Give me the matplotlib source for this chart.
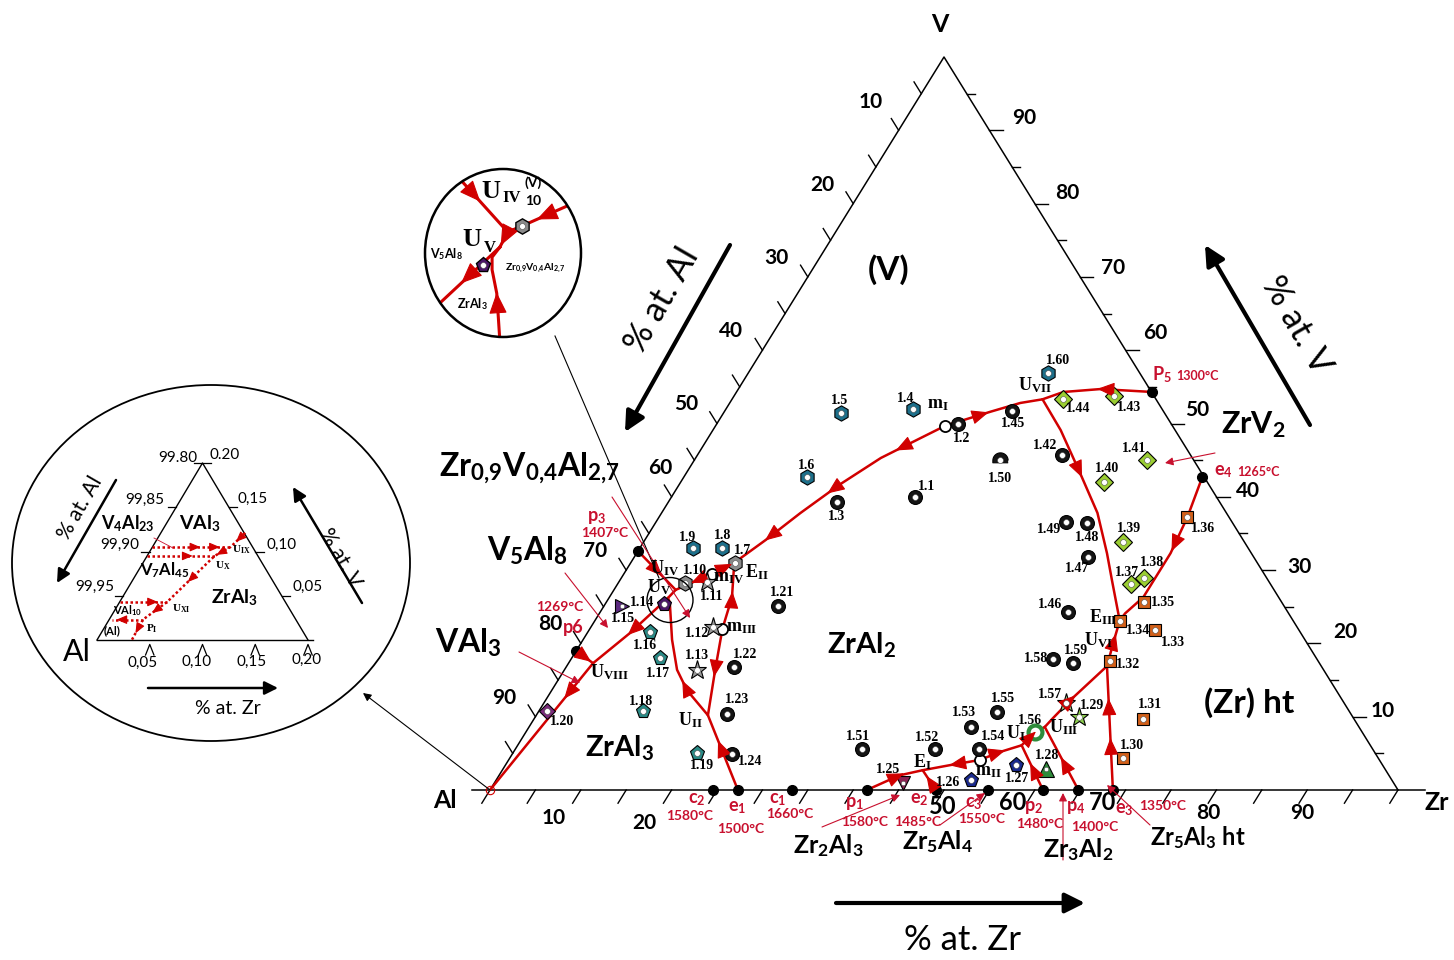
import numpy as np
import matplotlib
matplotlib.use('Agg')
import matplotlib.pyplot as plt
from matplotlib.patches import Ellipse

plt.rcParams['mathtext.fontset'] = 'custom'
plt.rcParams['mathtext.rm'] = 'Liberation Serif:bold'
plt.rcParams['mathtext.bf'] = 'Liberation Serif:bold'
plt.rcParams['mathtext.it'] = 'Liberation Serif:italic'
plt.rcParams['mathtext.sf'] = 'Lato:bold'

RED = '#d10000'
TRED = '#c8102e'
W, H = 1454, 960

# ---------------- data: compositions in at.% (Zr, V) ----------------
sym_names = ['1.%d' % i for i in range(1, 61)]
sym_zr = [26.8, 26.6, 18.6, 20.6, 13.0, 13.6, 11.5, 9.0, 5.9, 7.4,
          9.7, 13.5, 14.6, 6.5, 2.0, 6.8, 9.7, 11.5, 20.3, 0.9,
          19.2, 18.5, 20.9, 24.2, 45.0, 52.3, 56.2, 59.8, 59.9, 67.5,
          67.1, 59.5, 62.3, 57.8, 59.2, 58.2, 56.5, 57.6, 52.8, 46.6,
          49.9, 40.1, 41.8, 36.5, 31.6, 51.5, 50.0, 47.5, 45.1, 33.7,
          38.2, 46.2, 48.7, 51.1, 50.5, 56.1, 57.5, 53.1, 55.6, 33.0]
sym_v = [40.0, 49.9, 39.3, 52.0, 51.4, 42.7, 31.0, 33.0, 33.0, 28.2,
         28.4, 22.2, 16.4, 25.4, 25.1, 21.6, 18.0, 10.8, 5.0, 10.8,
         25.1, 16.8, 10.4, 4.9, 1.0, 1.4, 3.4, 2.9, 10.0, 4.4,
         9.7, 17.6, 21.8, 23.1, 25.6, 37.2, 28.1, 28.9, 33.8, 42.0,
         45.0, 45.7, 53.8, 53.3, 51.7, 24.3, 31.8, 36.4, 36.6, 45.0,
         5.6, 5.6, 8.6, 5.6, 10.6, 7.9, 11.9, 17.9, 17.3, 56.9]
sym_kind = ['circ', 'circ', 'circ', 'hex_t', 'hex_t', 'hex_t', 'hex_g', 'hex_t', 'hex_t', 'hex_g',
            'star_g', 'star_g', 'star_g', 'pent_p', 'tri_r', 'pent_t', 'pent_t', 'pent_t', 'pent_t', 'dia_p',
            'circ', 'circ', 'circ', 'circ', 'tri_d', 'pent_b', 'pent_b', 'tri_u', 'star_l', 'sq',
            'sq', 'sq', 'sq', 'sq', 'sq', 'sq', 'dia', 'dia', 'dia', 'dia',
            'dia', 'circ', 'dia', 'dia', 'circ', 'circ', 'circ', 'circ', 'circ', 'dome',
            'circ', 'circ', 'circ', 'circ', 'circ', 'ring', 'star_d', 'circ', 'circ', 'hex_t']

# monovariant lines, oriented with falling temperature
cur_p6 = [(0.0, 19.0), (2.7, 17.3)]
cur_UV_UVIII = [(6.5, 26.2), (4.7, 21.4), (2.7, 17.3)]
cur_UVIII_Al = [(2.7, 17.3), (0.0, 0.0)]
cur_p3 = [(0.0, 32.6), (6.8, 27.3)]
cur_mIV_UIV = [(9.7, 29.5), (6.8, 27.3)]
cur_mIV_EII = [(9.7, 29.5), (11.4, 31.0)]
cur_UIV_UV = [(6.8, 27.3), (6.5, 26.2)]
cur_UII_UV = [(18.9, 10.2), (14.9, 13.6), (12.4, 16.4), (9.8, 20.5), (7.0, 25.6), (6.5, 26.2)]
cur_e1 = [(27.3, 0.0), (18.9, 10.2)]
cur_mIII_UII = [(14.6, 22.0), (16.6, 16.4), (18.9, 10.2)]
cur_mIII_EII = [(14.6, 22.0), (13.5, 26.3), (11.4, 31.0)]
cur_mI_EII = [(25.3, 49.7), (23.4, 48.0), (20.4, 45.3), (17.7, 41.7), (15.3, 37.8), (13.3, 34.1), (11.4, 31.0)]
cur_mI_UVII = [(25.3, 49.7), (29.3, 51.6), (32.0, 52.8), (34.2, 53.3)]
cur_P5 = [(45.8, 54.3), (39.9, 54.7), (36.0, 54.3), (34.2, 53.3)]
cur_UVII_EIII = [(34.2, 53.3), (38.3, 49.1), (43.4, 43.2), (48.0, 37.8), (51.8, 32.3), (54.2, 28.6), (57.8, 23.1)]
cur_e4 = [(57.1, 42.7), (58.2, 37.2), (58.8, 32.3), (58.8, 26.3), (57.9, 24.1), (57.8, 23.1)]
cur_UVI_EIII = [(59.5, 16.9), (58.6, 20.1), (57.8, 23.1)]
cur_e3 = [(68.6, 0.0), (59.5, 16.9)]
cur_UIII_UVI = [(56.8, 8.6), (57.1, 9.8), (57.8, 12.3), (59.5, 16.9)]
cur_p4 = [(64.8, 0.0), (56.8, 8.6)]
cur_UI_UIII = [(55.5, 6.1), (56.1, 7.9), (56.8, 8.6)]
cur_p2 = [(60.9, 0.0), (55.5, 6.1)]
cur_mII_UI = [(51.9, 4.1), (53.6, 5.2), (55.5, 6.1)]
cur_mII_EI = [(51.9, 4.1), (49.0, 3.4), (46.3, 2.7)]
cur_p1 = [(41.5, 0.0), (44.1, 2.0), (46.3, 2.7)]
cur_e2 = [(49.1, 0.0), (46.3, 2.7)]

edge_zr = [0.0, 0.0, 24.6, 27.3, 33.3, 41.5, 49.1, 54.8, 60.9, 64.8, 68.6, 45.8, 57.1]
edge_v = [19.0, 32.6, 0, 0, 0, 0, 0, 0, 0, 0, 0, 54.3, 42.7]
saddle_zr = [25.3, 51.9, 14.6, 9.7]
saddle_v = [49.7, 4.1, 22.0, 29.5]

# Al-corner enlargement (at.%)
ins_A = [(0.0, 0.105), (0.074, 0.105)]
ins_B = [(0.0, 0.095), (0.064, 0.095)]
ins_C = [(0.0, 0.043), (0.045, 0.043)]
ins_D = [(0.032, 0.023), (0.003, 0.023)]
ins_diag = [(0.080, 0.121), (0.074, 0.105), (0.064, 0.095), (0.045, 0.043), (0.032, 0.023), (0.033, 0.0)]

# U_IV / U_V enlargement (schematic, circle radius = 1)
zin_p3 = [(-0.62, 0.95), (0.06, 0.25)]
zin_mIV = [(0.92, 0.60), (0.24, 0.32), (0.06, 0.25)]
zin_UIV_UV = [(0.06, 0.25), (-0.04, 0.07)]
zin_UV_UVIII = [(-0.04, 0.07), (-0.86, -0.64)]
zin_UII_UV = [(-0.04, -1.05), (-0.08, -0.48), (-0.14, -0.20), (-0.14, -0.05), (-0.04, 0.07)]


def tern(pts):
    p = np.asarray(pts, float)
    return p[:, 0] + p[:, 1] / 2, p[:, 1]


fig = plt.figure(figsize=(W / 100, H / 100), dpi=100)

# main ternary axes: X = Zr + V/2, Y = V
SX, SY = 9.08, 7.33
ax = fig.add_axes([0, 0, 1, 1])
ax.set_xlim(-490 / SX, (W - 490) / SX)
ax.set_ylim((790 - H) / SY, 790 / SY)
ax.axis('off')

# Al-corner inset axes
ia = fig.add_axes([0, 0, 1, 1])
ia.set_xlim(-97 / 1055, (W - 97) / 1055)
ia.set_ylim((640 - H) / 885, 640 / 885)
ia.axis('off')

# top zoom inset axes
za = fig.add_axes([0, 0, 1, 1])
za.set_xlim(-503 / 78, (W - 503) / 78)
za.set_ylim((253 - H) / 84, 253 / 84)
za.axis('off')

lay = fig.add_axes([0, 0, 1, 1])
lay.set_xlim(0, W)
lay.set_ylim(H, 0)
lay.axis('off')


def arrow_on(a, X, Y, t, color=RED, ms=12, hl=0.9, hw=0.38):
    P = a.transData.transform(np.column_stack([X, Y]))
    seg = np.hypot(*np.diff(P, axis=0).T)
    s = np.concatenate([[0], np.cumsum(seg)])
    L = t * s[-1]
    i = min(max(np.searchsorted(s, L) - 1, 0), len(seg) - 1)
    p = P[i] + (L - s[i]) / seg[i] * (P[i + 1] - P[i])
    d = (P[i + 1] - P[i]) / seg[i]
    inv = a.transData.inverted()
    a.annotate('', xy=inv.transform(p + d * 5), xytext=inv.transform(p - d * 5),
               arrowprops=dict(arrowstyle='-|>,head_length=%g,head_width=%g' % (hl, hw),
                               color=color, lw=0.8, shrinkA=0, shrinkB=0, mutation_scale=ms), zorder=7)


def lbl(x, y, s, size, color='k', weight='bold', family='Lato', rot=0, ha='center', va='center'):
    lay.text(x, y, s, fontsize=size, color=color, fontweight=weight, family=family,
             rotation=rot, ha=ha, va=va, zorder=10)


def parrow(x0, y0, x1, y1, color=TRED, lw=0.8, ms=12, style='-|>'):
    lay.annotate('', xy=(x1, y1), xytext=(x0, y0),
                 arrowprops=dict(arrowstyle=style, color=color, lw=lw, mutation_scale=ms,
                                 shrinkA=0, shrinkB=0))


# ---------------- main triangle ----------------
ax.plot([0, 100, 50, 0], [0, 0, 100, 0], color='k', lw=1.1, zorder=2)
ax.plot([-2, 0], [0, 0], color='k', lw=1.1)
ax.plot([100, 103], [0, 0], color='k', lw=1.1)
for z in range(0, 101, 5):
    ax.plot([z, z - 0.9], [0, -1.8], color='k', lw=1)
for v in range(5, 100, 5):
    x = 100 - v / 2
    ax.plot([x, x + (1.45 if v % 10 == 0 else 0.9)], [v, v], color='k', lw=1)
    x = v / 2
    ax.plot([x, x - 0.8], [v, v + 1.6], color='k', lw=1)

bot_off = {10: (-27, 28), 20: (-27, 33), 50: (-1, 16), 60: (-22, 13), 70: (-23, 13), 80: (-8, 23), 90: (-5, 23)}
for z, (dx, dy) in bot_off.items():
    ax.annotate(str(z), (z, 0), xytext=(dx, -dy), textcoords='offset pixels', ha='center', va='center',
                fontsize=17 if z in (50, 60, 70) else 15, fontweight='bold', family='Lato')
left_off = {10: (-28, -28), 60: (-11, -29)}
for al in range(10, 100, 10):
    v = 100 - al
    dx, dy = left_off.get(al, (-31, -19))
    ax.annotate(str(al), (v / 2, v), xytext=(dx, -dy), textcoords='offset pixels', ha='center', va='center',
                fontsize=15, fontweight='bold', family='Lato')
right_off = {90: (35, -12), 80: (32, -11), 70: (33, -9), 60: (30, -17), 50: (26, -13),
             40: (32, -6), 30: (38, -3), 20: (38, -11), 10: (30, -6)}
for v, (dx, dy) in right_off.items():
    ax.annotate(str(v), (100 - v / 2, v), xytext=(dx, -dy), textcoords='offset pixels', ha='center',
                va='center', fontsize=15, fontweight='bold', family='Lato')

# lines with arrows
curves = [(cur_p6, [0.65]), (cur_UV_UVIII, [0.5]), (cur_UVIII_Al, [0.25]), (cur_p3, [0.55]),
          (cur_mIV_UIV, [0.45]), (cur_mIV_EII, [0.7]), (cur_UIV_UV, []), (cur_UII_UV, [0.3]),
          (cur_e1, [0.6]), (cur_mIII_UII, [0.5]), (cur_mIII_EII, [0.5]),
          (cur_mI_EII, [0.2, 0.52, 0.83]), (cur_mI_UVII, [0.4]), (cur_P5, [0.45]),
          (cur_UVII_EIII, [0.35]), (cur_e4, [0.45]), (cur_UVI_EIII, [0.6]), (cur_e3, [0.38, 0.7]),
          (cur_UIII_UVI, [0.45]), (cur_p4, [0.45]), (cur_UI_UIII, [0.5]), (cur_p2, [0.5]),
          (cur_mII_UI, [0.5]), (cur_mII_EI, [0.45]), (cur_p1, [0.6]), (cur_e2, [0.5])]
for c, ts in curves:
    X, Y = tern(c)
    ax.plot(X, Y, color=RED, lw=1.8, zorder=4, solid_capstyle='round')
    for t in ts:
        arrow_on(ax, X, Y, t)

X, Y = tern(list(zip(edge_zr, edge_v)))
ax.plot(X, Y, 'o', color='k', ms=7, zorder=6)
X, Y = tern(list(zip(saddle_zr, saddle_v)))
ax.plot(X, Y, 'o', mfc='white', mec='k', mew=1.3, ms=8, zorder=6)
ax.plot([0], [0], 'o', mfc='none', mec=RED, mew=0.8, ms=6, zorder=6)

# symbols
theta = np.linspace(0, np.pi, 20)
dome = [(np.cos(a), np.sin(a)) for a in theta] + [(-1, -0.3), (1, -0.3)]
STY = {
    'circ': dict(marker='o', mfc='#151515', ms=10),
    'hex_t': dict(marker='h', mfc='#1d6f8a', ms=11),
    'hex_g': dict(marker='h', mfc='#8a8a8a', ms=11),
    'star_g': dict(marker='*', mfc='#9a9a9a', ms=14),
    'star_l': dict(marker='*', mfc='#8fd14f', ms=14),
    'star_d': dict(marker='*', mfc='#9bc48a', ms=14),
    'pent_t': dict(marker='p', mfc='#2a8a86', ms=11),
    'pent_p': dict(marker='p', mfc='#4b1668', ms=11),
    'pent_b': dict(marker='p', mfc='#1a2a90', ms=11),
    'tri_r': dict(marker='>', mfc='#5b2a80', ms=10),
    'tri_d': dict(marker='v', mfc='#8b2252', ms=10),
    'tri_u': dict(marker='^', mfc='#2e8b3a', ms=11),
    'dia_p': dict(marker='D', mfc='#7a2a7a', ms=8),
    'dia': dict(marker='D', mfc='#9acd32', ms=9),
    'sq': dict(marker='s', mfc='#d2601a', ms=9),
    'ring': dict(marker='o', mfc='white', mec='#2e8b3a', mew=3, ms=10),
    'dome': dict(marker=dome, mfc='#151515', ms=11),
}
lab_off = [(12, -10), (4, 14), (-1, 15), (-7, -10), (-2, -13), (-1, -12), (7, -12), (1, -13), (-6, -11), (10, -13),
           (5, 15), (-16, 6), (0, -14), (-22, -1), (1, 12), (-5, 14), (-2, 15), (-2, -9), (5, 12), (15, 11),
           (4, -14), (11, -12), (10, -14), (18, 7), (-15, -13), (-23, 3), (1, 13), (1, -13), (13, -11), (9, -12),
           (7, -14), (18, 4), (18, 12), (18, 10), (19, 0), (16, 11), (-4, -12), (8, -16), (6, -14), (3, -14),
           (-13, -12), (-16, -10), (15, 12), (15, 9), (1, 12), (-18, -7), (-11, 12), (1, 14), (-17, 8), (0, 18),
           (-4, -12), (-8, -11), (-7, -14), (14, -12), (6, -14), (-5, -12), (-16, -8), (-17, 0), (3, -13), (10, -12)]
SX_, SY_ = tern(list(zip(sym_zr, sym_v)))
for name, x, y, k, (dx, dy) in zip(sym_names, SX_, SY_, sym_kind, lab_off):
    st = dict(mec='k', mew=0.8)
    st.update(STY[k])
    ax.plot([x], [y], ls='none', zorder=6, **st)
    if k not in ('ring', 'tri_r', 'tri_d', 'tri_u'):
        ax.plot([x], [y], 'o', mfc='white', mec='#555555', mew=0.4, ms=4.2, zorder=7)
    elif k != 'ring':
        ax.plot([x], [y], 'o', mfc='white', mec='#555555', mew=0.4, ms=3.2, zorder=7)
    ax.annotate(name, (x, y), xytext=(dx, -dy), textcoords='offset pixels', ha='center', va='center',
                fontsize=10, fontweight='bold', family='Liberation Serif', zorder=8)

# invariant point labels
for x, y, s in [(665, 568, r'U$_{\rm IV}$'), (659, 587, r'U$_{\rm V}$'), (757, 572, r'E$_{\rm II}$'),
                (729, 578, r'm$_{\rm IV}$'), (742, 628, r'm$_{\rm III}$'), (690, 720, r'U$_{\rm II}$'),
                (609, 672, r'U$_{\rm VIII}$'), (938, 405, r'm$_{\rm I}$'), (1035, 385, r'U$_{\rm VII}$'),
                (1103, 617, r'E$_{\rm III}$'), (1098, 640, r'U$_{\rm VI}$'), (1064, 727, r'U$_{\rm III}$'),
                (1016, 733, r'U$_{\rm I}$'), (988, 771, r'm$_{\rm II}$'), (922, 762, r'E$_{\rm I}$')]:
    lbl(x, y, s, 13, family='Liberation Serif')

# phase labels
lbl(940, 25, 'V', 18)
lbl(445, 800, 'Al', 18)
lbl(1437, 803, 'Zr', 18)
lbl(889, 270, '(V)', 24)
lbl(862, 645, r'ZrAl$_{\mathsf{2}}$', 21)
lbl(620, 748, r'ZrAl$_{\mathsf{3}}$', 21)
lbl(1249, 703, '(Zr) ht', 24)
lbl(1253, 425, r'ZrV$_{\mathsf{2}}$', 22)
lbl(529, 468, r'Zr$_{\mathsf{0{,}9}}$V$_{\mathsf{0{,}4}}$Al$_{\mathsf{2{,}7}}$', 23)
lbl(527, 551, r'V$_{\mathsf{5}}$Al$_{\mathsf{8}}$', 23)
lbl(468, 643, r'VAl$_{\mathsf{3}}$', 23)
lbl(828, 846, r'Zr$_{\mathsf{2}}$Al$_{\mathsf{3}}$', 18)
lbl(937, 842, r'Zr$_{\mathsf{5}}$Al$_{\mathsf{4}}$', 18)
lbl(1078, 850, r'Zr$_{\mathsf{3}}$Al$_{\mathsf{2}}$', 18)
lbl(1198, 838, r'Zr$_{\mathsf{5}}$Al$_{\mathsf{3}}$ ht', 17)

# axis titles and big arrows
lbl(962, 940, '% at. Zr', 25, weight='normal')
parrow(836, 903, 1085, 903, color='k', lw=3, ms=30)
lbl(662, 300, '% at. Al', 25, weight='normal', rot=60)
parrow(730, 245, 625, 432, color='k', lw=3, ms=30)
lbl(1296, 325, '% at. V', 25, weight='normal', rot=-60)
parrow(1310, 425, 1205, 245, color='k', lw=3, ms=30)

# red invariant reaction labels
for x, y, s, fs in [(597, 518, r'p$_{\mathsf{3}}$', 13), (605, 533, '1407°C', 10), (560, 607, '1269°C', 10),
                    (573, 627, 'p6', 13), (697, 800, r'c$_{\mathsf{2}}$', 13), (690, 816, '1580°C', 10),
                    (737, 808, r'e$_{\mathsf{1}}$', 13), (741, 829, '1500°C', 10),
                    (778, 800, r'c$_{\mathsf{1}}$', 13), (790, 814, '1660°C', 10),
                    (854, 804, r'p$_{\mathsf{1}}$', 13), (865, 822, '1580°C', 10),
                    (919, 800, r'e$_{\mathsf{2}}$', 13), (918, 822, '1485°C', 10),
                    (974, 803, r'c$_{\mathsf{3}}$', 13), (982, 819, '1550°C', 10),
                    (1034, 808, r'p$_{\mathsf{2}}$', 13), (1040, 824, '1480°C', 10),
                    (1076, 808, r'p$_{\mathsf{4}}$', 13), (1095, 827, '1400°C', 10),
                    (1124, 810, r'e$_{\mathsf{3}}$', 13), (1163, 806, '1350°C', 10),
                    (1162, 375, r'P$_{\mathsf{5}}$', 13), (1197, 376, '1300°C', 9),
                    (1223, 472, r'e$_{\mathsf{4}}$', 13), (1258, 472, '1265°C', 9)]:
    lbl(x, y, s, fs, color=TRED)

# thin pointers
for x0, y0, x1, y1 in [(1215, 453, 1165, 463), (612, 497, 690, 618), (565, 573, 608, 628),
                       (519, 652, 580, 683), (822, 827, 900, 795), (940, 825, 985, 793),
                       (1063, 860, 1063, 793), (1150, 825, 1107, 785)]:
    parrow(x0, y0, x1, y1)

# magnifier circles
lay.add_patch(Ellipse((670, 600), 46, 45, fill=False, ec='k', lw=1))
lay.plot([555, 659], [336, 578], color='k', lw=0.8)
parrow(490, 790, 363, 693, color='k', lw=0.8, ms=12)

# ---------------- top zoom inset ----------------
circ = Ellipse((0, 0), 2, 2, fill=False, ec='k', lw=1.8, zorder=5)
za.add_patch(circ)
for c, ts in [(zin_p3, [0.42]), (zin_mIV, [0.5]), (zin_UIV_UV, [0.6]), (zin_UV_UVIII, [0.55]),
              (zin_UII_UV, [0.45])]:
    X, Y = np.asarray(c).T
    ln, = za.plot(X, Y, color=RED, lw=2.2, zorder=3)
    ln.set_clip_path(circ)
    for t in ts:
        arrow_on(za, X, Y, t, ms=15)
za.plot([0.24], [0.32], 'h', mfc='#8a8a8a', mec='k', ms=11, zorder=6)
za.plot([0.24], [0.32], 'o', mfc='white', mec='#555555', mew=0.4, ms=4.2, zorder=7)
za.plot([-0.26], [-0.14], 'p', mfc='#4b1668', mec='k', ms=11, zorder=6)
za.plot([-0.26], [-0.14], 'o', mfc='white', mec='#555555', mew=0.4, ms=4.2, zorder=7)
lbl(491, 191, 'U', 19, family='Liberation Serif')
lbl(512, 198, 'IV', 12, family='Liberation Serif')
lbl(533, 183, '(V)', 10)
lbl(533, 201, '10', 10)
lbl(472, 240, 'U', 19, family='Liberation Serif')
lbl(490, 248, 'V', 12, family='Liberation Serif')
lbl(446, 254, r'V$_{\mathsf{5}}$Al$_{\mathsf{8}}$', 9)
lbl(535, 268, r'Zr$_{\mathsf{0{,}9}}$V$_{\mathsf{0{,}4}}$Al$_{\mathsf{2{,}7}}$', 7.5)
lbl(472, 304, r'ZrAl$_{\mathsf{3}}$', 9)

# ---------------- Al-corner inset ----------------
lay.add_patch(Ellipse((211, 563), 398, 356, fill=False, ec='k', lw=1.3))
ia.plot([0, 0.1, 0.2], [0, 0.2, 0], color='k', lw=1)
ia.plot([0, 0.205], [0, 0], color='k', lw=1)
for v in (0.05, 0.10, 0.15):
    ia.plot([v / 2 - 0.008, v / 2], [v, v], color='k', lw=0.9)
    ia.plot([0.2 - v / 2, 0.2 - v / 2 + 0.008], [v, v], color='k', lw=0.9)
ia.plot([0.092, 0.108], [0.2, 0.2], color='k', lw=0.9)
for z in (0.05, 0.10, 0.15, 0.20):
    ia.plot([z - 0.004, z, z + 0.004], [-0.017, -0.005, -0.017], color='k', lw=0.9)
for c, ts in [(ins_A, [0.55, 0.8]), (ins_B, [0.6]), (ins_C, [0.7]), (ins_D, [0.7])]:
    X, Y = tern(c)
    ia.plot(X, Y, color=RED, lw=1.8, ls=(0, (1, 1)))
    for t in ts:
        arrow_on(ia, X, Y, t, ms=7)
X, Y = tern(ins_diag)
ia.plot(X, Y, color=RED, lw=1.8, ls=(0, (1, 1)))
for t in (0.05, 0.2, 0.45, 0.75, 0.92):
    arrow_on(ia, X, Y, t, ms=7)
lay.plot([154, 173], [538, 548], color=TRED, lw=0.6)

for x, y, s in [(178, 458, '99.80'), (225, 455, '0.20'), (145, 500, '99,85'), (120, 545, '99,90'),
                (95, 587, '99,95'), (253, 499, '0,15'), (282, 545, '0,10'), (308, 587, '0,05'),
                (143, 663, '0,05'), (197, 662, '0,10'), (252, 662, '0,15'), (307, 660, '0,20')]:
    lbl(x, y, s, 11, weight='normal')
lbl(77, 652, 'Al', 22, weight='normal')
lbl(80, 508, '% at. Al', 15, weight='normal', rot=60)
parrow(116, 480, 57, 583, color='k', lw=1.8, ms=20)
lbl(340, 558, '% at. V', 15, weight='normal', rot=-60)
parrow(362, 603, 293, 487, color='k', lw=1.8, ms=20)
lbl(228, 708, '% at. Zr', 14, weight='normal')
parrow(148, 688, 278, 688, color='k', lw=1.8, ms=20)
lbl(128, 524, r'V$_{\mathsf{4}}$Al$_{\mathsf{23}}$', 13)
lbl(200, 524, r'VAl$_{\mathsf{3}}$', 14)
lbl(165, 570, r'V$_{\mathsf{7}}$Al$_{\mathsf{45}}$', 12)
lbl(234, 598, r'ZrAl$_{\mathsf{3}}$', 14)
lbl(128, 611, r'VAl$_{\mathsf{10}}$', 8)
lbl(112, 631, '(Al)', 8)
for x, y, s in [(152, 629, r'P$_{\rm I}$'), (241, 550, r'U$_{\rm IX}$'), (223, 566, r'U$_{\rm X}$'),
                (181, 609, r'U$_{\rm XI}$')]:
    lbl(x, y, s, 8, family='Liberation Serif')

fig.savefig('out.png', dpi=100)
